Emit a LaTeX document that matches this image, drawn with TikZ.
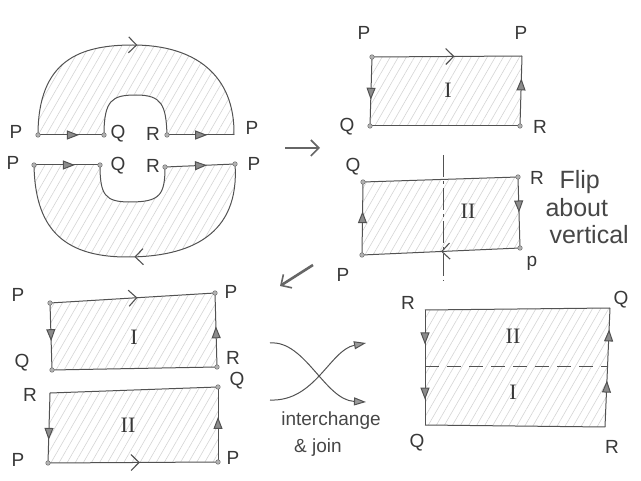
\documentclass[tikz,border=0pt]{standalone}
\usepackage{fontspec}
\setmainfont{Liberation Sans}
\newfontfamily\numfont{Liberation Serif}
\usetikzlibrary{arrows.meta,decorations.markings,patterns.meta}

\tikzset{
  ink/.style={draw=black!68, line width=1pt},
  hatch/.style={pattern={Lines[angle=60,distance=7pt,line width=0.6pt]}, pattern color=black!17},
  vdot/.style={circle, fill=black!30, draw=black!55, line width=0.5pt, inner sep=0pt, minimum size=4.5pt},
  lbl/.style={font=\fontsize{19}{20}\selectfont, text=black!78},
  numlbl/.style={font=\numfont\fontsize{22}{22}\selectfont, text=black!78},
  note/.style={font=\fontsize{19}{22}\selectfont, text=black!72},
  bignote/.style={font=\fontsize{25}{26}\selectfont, text=black!72},
  fwd/.style={postaction={decorate,decoration={markings,
      mark=at position #1 with {\arrow{Triangle[length=12pt,width=9pt,fill=black!45]}}}}},
  barb/.style={postaction={decorate,decoration={markings,
      mark=at position #1 with {\arrow{Straight Barb[length=8pt,width=16pt,line width=1.1pt]}}}}},
  bigarrow/.style={draw=black!60, line width=2.6pt, -{Straight Barb[length=8pt,width=16pt,line width=1.6pt]}},
}

\begin{document}
\begin{tikzpicture}[x=1pt,y=-1pt]
\useasboundingbox (0,0) rectangle (641,481);

% ---------- split annulus: upper half ----------
\coordinate (uP)  at (38,135);
\coordinate (uQ)  at (104,135);
\coordinate (uR)  at (167,135);
\coordinate (uP2) at (234,135);
\fill[hatch] (uP) .. controls (38,60) and (80,45) .. (133,45)
  .. controls (195,45) and (235,75) .. (uP2) -- (uR)
  .. controls (166,105) and (162,95) .. (136,95)
  .. controls (112,95) and (104,100) .. (uQ) -- cycle;
\draw[ink, barb=0.51] (uP) .. controls (38,60) and (80,45) .. (133,45)
  .. controls (195,45) and (235,75) .. (uP2);
\draw[ink] (uQ) .. controls (104,100) and (112,95) .. (136,95)
  .. controls (162,95) and (166,105) .. (uR);
\draw[ink, fwd=0.62] (uP) -- (uQ);
\draw[ink, fwd=0.6] (uR) -- (uP2);
\foreach \c in {uP,uQ,uR} \node[vdot] at (\c) {};
\node[lbl] (luP)  at (16,132) {P};
\node[lbl] (luQ)  at (118,134) {Q};
\node[lbl] (luR)  at (153,134) {R};
\node[lbl] (luP2) at (252,128) {P};

% ---------- split annulus: lower half ----------
\coordinate (dP)  at (34,165);
\coordinate (dQ)  at (100,165);
\coordinate (dR)  at (165,167);
\coordinate (dP2) at (235,164);
\fill[hatch] (dP) -- (dQ)
  .. controls (100,195) and (105,202) .. (130,202)
  .. controls (160,202) and (165,195) .. (dR) -- (dP2)
  .. controls (240,235) and (190,257) .. (127,257)
  .. controls (60,257) and (35,225) .. (dP) -- cycle;
\draw[ink] (dQ) .. controls (100,195) and (105,202) .. (130,202)
  .. controls (160,202) and (165,195) .. (dR);
\draw[ink, barb=0.5] (dP2) .. controls (240,235) and (190,257) .. (127,257)
  .. controls (60,257) and (35,225) .. (dP);
\draw[ink, fwd=0.62] (dP) -- (dQ);
\draw[ink, fwd=0.6] (dR) -- (dP2);
\foreach \c in {dP,dQ,dR,dP2} \node[vdot] at (\c) {};
\node[lbl] (ldP)  at (13,163) {P};
\node[lbl] (ldQ)  at (118,166) {Q};
\node[lbl] (ldR)  at (153,166) {R};
\node[lbl] (ldP2) at (254,164) {P};

% ---------- step arrows ----------
\coordinate (s1a) at (285,148);
\coordinate (s1b) at (320,148);
\draw[bigarrow] (s1a) -- (s1b);
\coordinate (s2a) at (313,265);
\coordinate (s2b) at (280,286);
\draw[bigarrow] (s2a) -- (s2b);

% ---------- piece I ----------
\coordinate (aP) at (372,57);
\coordinate (aP2) at (522,56);
\coordinate (aR) at (520,126);
\coordinate (aQ) at (370,126);
\fill[hatch] (aP) -- (aP2) -- (aR) -- (aQ) -- cycle;
\draw[ink, barb=0.55] (aP) -- (aP2);
\draw[ink, fwd=0.62] (aP) -- (aQ);
\draw[ink, fwd=0.68] (aR) -- (aP2);
\draw[ink] (aQ) -- (aR);
\foreach \c in {aP,aQ,aR} \node[vdot] at (\c) {};
\node[numlbl] (aI) at (448,90) {I};
\node[lbl] at (364,33) {P};
\node[lbl] at (521,33) {P};
\node[lbl] at (347,127) {Q};
\node[lbl] at (540,127) {R};

% ---------- piece II ----------
\coordinate (bQ) at (363,182);
\coordinate (bR) at (518,177);
\coordinate (bp) at (520,248);
\coordinate (bP) at (362,255);
\fill[hatch] (bQ) -- (bR) -- (bp) -- (bP) -- cycle;
\draw[ink] (bQ) -- (bR);
\draw[ink, fwd=0.6] (bP) -- (bQ);
\draw[ink, fwd=0.5] (bR) -- (bp);
\draw[ink, barb=0.5] (bp) -- (bP);
\foreach \c in {bQ,bR,bp,bP} \node[vdot] at (\c) {};
\coordinate (axT) at (443,155);
\coordinate (axB) at (443,281);
\draw[ink, dash pattern=on 22pt off 4pt on 3pt off 4pt] (axT) -- (axB);
\node[numlbl] (bII) at (468,211) {II};
\node[lbl] at (353,167) {Q};
\node[lbl] at (343,275) {P};
\node[lbl] at (537,178) {R};
\node[lbl] at (532,263) {p};
\node[bignote, anchor=west] (flip) at (556,182) {Flip};
\node[bignote, anchor=west] at (542,208) {about};
\node[bignote, anchor=west] at (546,235) {vertical};

% ---------- both pieces, stacked ----------
\coordinate (cP) at (50,303);
\coordinate (cP2) at (215,293);
\coordinate (cR) at (217,367);
\coordinate (cQ) at (52,370);
\fill[hatch] (cP) -- (cP2) -- (cR) -- (cQ) -- cycle;
\draw[ink, barb=0.53] (cP) -- (cP2);
\draw[ink, fwd=0.57] (cP) -- (cQ);
\draw[ink, fwd=0.55] (cR) -- (cP2);
\draw[ink] (cQ) -- (cR);
\foreach \c in {cP,cP2,cR,cQ} \node[vdot] at (\c) {};
\node[numlbl] at (134,337) {I};
\node[lbl] at (18,295) {P};
\node[lbl] at (231,292) {P};
\node[lbl] at (22,363) {Q};
\node[lbl] at (233,358) {R};

\coordinate (eR) at (50,393);
\coordinate (eQ) at (218,387);
\coordinate (eP2) at (218,462);
\coordinate (eP) at (48,463);
\fill[hatch] (eR) -- (eQ) -- (eP2) -- (eP) -- cycle;
\draw[ink] (eR) -- (eQ);
\draw[ink, fwd=0.67] (eR) -- (eP);
\draw[ink, fwd=0.6] (eP2) -- (eQ);
\draw[ink, barb=0.54] (eP) -- (eP2);
\foreach \c in {eQ,eP2,eP} \node[vdot] at (\c) {};
\node[numlbl] at (128,425) {II};
\node[lbl] at (30,395) {R};
\node[lbl] at (237,381) {Q};
\node[lbl] at (18,460) {P};
\node[lbl] at (233,458) {P};

% ---------- interchange arrows ----------
\coordinate (xa) at (270,343);
\coordinate (xb) at (366,402);
\coordinate (xc) at (270,400);
\coordinate (xd) at (366,343);
\draw[ink, -{Triangle[length=12pt,width=8pt,fill=black!40]}] (xa) .. controls (305,340) and (325,400) .. (xb);
\draw[ink, -{Triangle[length=12pt,width=8pt,fill=black!40]}] (xc) .. controls (315,402) and (330,350) .. (xd);
\node[note] at (331,421) {interchange};
\node[note] at (318,448) {\& join};

% ---------- joined square ----------
\coordinate (fR) at (425,310);
\coordinate (fQ) at (610,308);
\coordinate (fR2) at (605,427);
\coordinate (fQ2) at (425,425);
\coordinate (mL) at (425,367);
\coordinate (mR) at (608,367);
\fill[hatch] (fR) -- (fQ) -- (fR2) -- (fQ2) -- cycle;
\draw[ink] (fR) -- (fQ);
\draw[ink] (fQ2) -- (fR2);
\draw[ink, fwd=0.3, fwd=0.78] (fR) -- (fQ2);
\draw[ink, fwd=0.39, fwd=0.82] (fR2) -- (fQ);
\draw[ink, dash pattern=on 14pt off 8pt] (mL) -- (mR);
\node[numlbl] at (513,336) {II};
\node[numlbl] at (513,392) {I};
\node[lbl] at (408,303) {R};
\node[lbl] at (621,300) {Q};
\node[lbl] at (417,443) {Q};
\node[lbl] at (612,447) {R};
\end{tikzpicture}
\end{document}
